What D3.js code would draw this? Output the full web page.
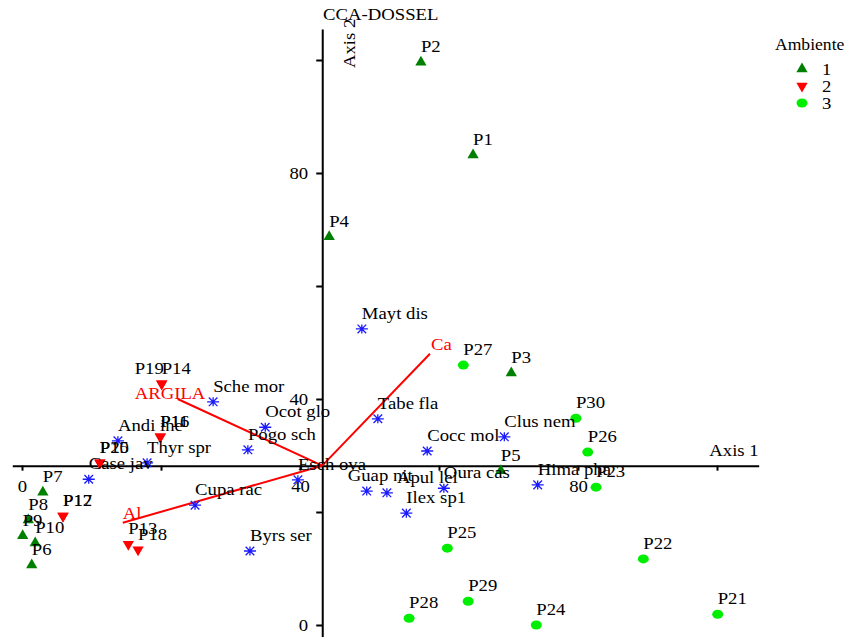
<!DOCTYPE html>
<html>
<head>
<meta charset="utf-8">
<script src="https://cdn.jsdelivr.net/npm/d3@7"></script>
<style>
  body { margin: 0; background: #fff; }
  svg { font-family: "Liberation Serif", "DejaVu Serif", serif; font-size: 16px; }
</style>
</head>
<body>
<svg id="chart"></svg>
<script>
const width = 846;
const height = 637;

// site scores (axis units as printed on the plot)
const sites = ["P1","P2","P3","P4","P5","P6","P7","P8","P9","P10",
               "P11","P12","P13","P14","P15","P16","P17","P18","P19","P20",
               "P21","P22","P23","P24","P25","P26","P27","P28","P29","P30"];
const siteAxis1 = [64.9, 57.4, 70.4, 44.2, 68.9, 1.4, 3.0, 0.9, 0.1, 1.9,
                   19.9, 5.9, 15.3, 20.1, 11.2, 19.9, 5.9, 16.7, 20.1, 11.2,
                   100.1, 89.4, 82.6, 74.0, 61.2, 81.4, 63.5, 55.7, 64.2, 79.7];
const siteAxis2 = [83.2, 99.6, 44.6, 68.7, 27.3, 10.6, 23.5, 18.6, 15.8, 14.5,
                   33.3, 19.3, 14.3, 42.7, 28.7, 33.3, 19.3, 13.3, 42.7, 28.7,
                   1.9, 11.7, 24.4, 0.0, 13.6, 30.6, 46.0, 1.2, 4.2, 36.6];
const siteAmbiente = ["1","1","1","1","1","1","1","1","1","1",
                      "2","2","2","2","2","2","2","2","2","2",
                      "3","3","3","3","3","3","3","3","3","3"];

// species scores
const species = ["Mayt dis","Sche mor","Ocot glo","Pogo sch","Esch ova","Tabe fla",
                 "Cocc mol","Clus nem","Hima pha","Oura cas","Guap nit","Apul lei",
                 "Ilex sp1","Andi ine","Case jav","Thyr spr","Cupa rac","Byrs ser"];
const speciesAxis1 = [48.9, 27.5, 35.0, 32.5, 39.7, 51.2, 58.3, 69.4, 74.2, 60.7,
                      49.6, 52.5, 55.3, 13.8, 9.6, 18.0, 24.9, 32.8];
const speciesAxis2 = [52.4, 39.5, 35.0, 31.0, 25.7, 36.5, 30.8, 33.3, 24.8, 24.2,
                      23.7, 23.4, 19.8, 32.6, 25.8, 28.7, 21.2, 13.1];

// environmental vectors (tips), drawn from the axis crossing
const vectors = ["ARGILA", "Al", "Ca"];
const vectorAxis1 = [22.4, 14.5, 58.7];
const vectorAxis2 = [40.0, 18.1, 48.0];

const ambientes = ["1", "2", "3"];
const tickValues = [0, 20, 40, 60, 80, 100];
const labelledTicks = [0, 40, 80];
const axisCross = [43.2, 28.2];

// label nudges where the original plot moved a label off its point
const labelNudge = { "P19": -27, "Guap nit": -19, "Apul lei": 10 };
const vectorNudge = { "ARGILA": [-43, 0], "Al": [0, -4], "Ca": [1, -4] };

// the original's type is a little wider than Liberation Serif
const stretch = 1.17;
const placeText = (sel, fx, fy, extra = "") =>
    sel.attr("transform", (d, i) => `translate(${fx(d, i)},${fy(d, i)}) ${extra} scale(${stretch},1)`);

const x = d3.scaleLinear().domain([0, 100]).range([22, 717]);
const y = d3.scaleLinear().domain([0, 80]).range([625, 173]);

const svg = d3.select("#chart")
    .attr("width", width)
    .attr("height", height);

const tickFmt = d => labelledTicks.includes(d) ? d : "";

// horizontal axis, through the crossing point
const xAxisScale = x.copy().domain([-1.4, 106]).range([x(-1.4), x(106)]);
const gx = svg.append("g")
    .attr("transform", `translate(0,${y(axisCross[1])})`)
    .call(d3.axisBottom(xAxisScale).tickValues(tickValues).tickFormat(tickFmt)
        .tickSize(5).tickSizeOuter(0).tickPadding(10));

const yAxisScale = y.copy().domain([-3, 105.5]).range([y(-3), y(105.5)]);
const gy = svg.append("g")
    .attr("transform", `translate(${x(axisCross[0])},0)`)
    .call(d3.axisLeft(yAxisScale).tickValues(tickValues).tickFormat(tickFmt)
        .tickSize(6).tickSizeOuter(0).tickPadding(6));

[gx, gy].forEach(g => {
    g.select(".domain").attr("stroke", "#000").attr("stroke-width", 2);
    g.selectAll(".tick line").attr("stroke", "#000").attr("stroke-width", 2);
    g.selectAll(".tick text")
        .attr("fill", "#000")
        .attr("transform", `scale(${stretch},1)`)
        .style("font-family", "Liberation Serif")
        .style("font-size", "16px");
});

svg.append("text")
    .attr("text-anchor", "end")
    .call(placeText, () => xAxisScale.range()[1], () => y(axisCross[1]) - 10)
    .text("Axis 1");

svg.append("text")
    .call(placeText, () => x(axisCross[0]) + 33, () => 68, "rotate(-90)")
    .text("Axis 2");

svg.append("text")
    .call(placeText, () => 323, () => 20)
    .text("CCA-DOSSEL");

// vectors
const vecData = vectors.map((name, i) => ({ name, a1: vectorAxis1[i], a2: vectorAxis2[i] }));
svg.append("g").selectAll("line")
    .data(vecData)
    .join("line")
    .attr("x1", x(axisCross[0]))
    .attr("y1", y(axisCross[1]))
    .attr("x2", d => x(d.a1))
    .attr("y2", d => y(d.a2))
    .attr("stroke", "#ff0000")
    .attr("stroke-width", 2);

svg.append("g").selectAll("text")
    .data(vecData)
    .join("text")
    .call(placeText, d => x(d.a1) + vectorNudge[d.name][0], d => y(d.a2) + vectorNudge[d.name][1])
    .attr("fill", "#ff0000")
    .text(d => d.name);

// species asterisks
const spData = species.map((name, i) => ({ name, a1: speciesAxis1[i], a2: speciesAxis2[i] }));
const star = "M-6,0L6,0M0,-4.5L0,4.5M-4.3,-4.3L4.3,4.3M-4.3,4.3L4.3,-4.3";
svg.append("g").selectAll("path")
    .data(spData)
    .join("path")
    .attr("transform", d => `translate(${x(d.a1)},${y(d.a2)})`)
    .attr("d", star)
    .attr("stroke", "#1a1aff")
    .attr("stroke-width", 1.3)
    .attr("fill", "none");

// site symbols
const colors = { "1": "#008000", "2": "#ff0000", "3": "#00ee00" };
const tri = d3.symbol().type(d3.symbolTriangle).size(55)();

function drawMarker(sel, amb) {
    if (amb === "3") {
        sel.append("ellipse").attr("rx", 5.5).attr("ry", 4.5).attr("fill", colors[amb]);
    } else {
        sel.append("path")
            .attr("d", tri)
            .attr("transform", amb === "2" ? "rotate(180)" : null)
            .attr("fill", colors[amb]);
    }
}

const siteData = sites.map((name, i) => ({ name, a1: siteAxis1[i], a2: siteAxis2[i], amb: siteAmbiente[i] }));
svg.append("g").selectAll("g")
    .data(siteData)
    .join("g")
    .attr("transform", d => `translate(${x(d.a1)},${y(d.a2)})`)
    .each(function(d) { drawMarker(d3.select(this), d.amb); });

// labels on top
svg.append("g").selectAll("text")
    .data(spData.concat(siteData))
    .join("text")
    .call(placeText, d => x(d.a1) + (labelNudge[d.name] || 0), d => y(d.a2) - 10)
    .attr("fill", "#000")
    .text(d => d.name);

// legend
const legend = svg.append("g");
legend.append("text")
    .attr("transform", "translate(775,50) scale(1.1,1)")
    .text("Ambiente");

const items = legend.selectAll("g.item")
    .data(ambientes)
    .join("g")
    .attr("class", "item")
    .attr("transform", (d, i) => `translate(802,${69 + i * 17})`);
items.each(function(d) { drawMarker(d3.select(this), d); });
items.append("text")
    .call(placeText, () => 20, () => 6)
    .text(d => d);
</script>
</body>
</html>
